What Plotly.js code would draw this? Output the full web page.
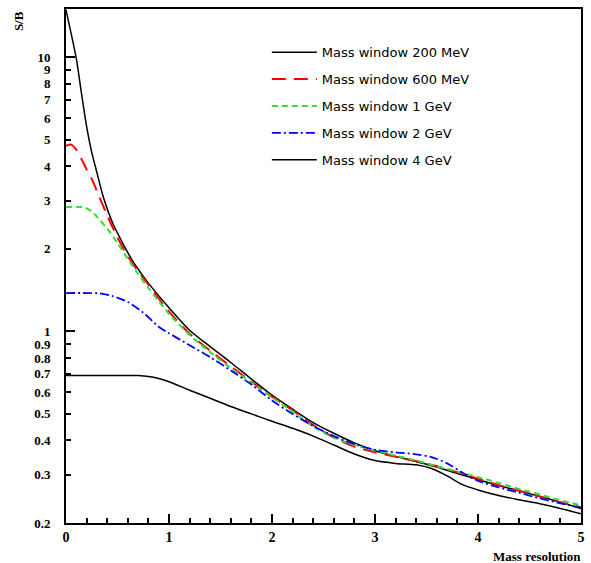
<!DOCTYPE html>
<html>
<head>
<meta charset="utf-8">
<script src="https://cdn.plot.ly/plotly-3.0.1.min.js"></script>
<style>html,body{margin:0;padding:0;background:#fff}#chart{width:591px;height:563px}</style>
</head>
<body>
<div id="chart"></div>
<script>
// Series names
const seriesNames = ["Mass window 200 MeV", "Mass window 600 MeV", "Mass window 1 GeV", "Mass window 2 GeV", "Mass window 4 GeV"];

// Mass window 200 MeV
const x200 = [0, 0.05, 0.1, 0.15, 0.2, 0.25, 0.3, 0.36, 0.45, 0.55, 0.65, 0.8, 1.0, 1.2, 1.4, 1.6, 1.8, 2.0, 2.2, 2.4, 2.6, 2.8, 3.0, 3.2, 3.4, 3.6, 3.8, 4.0, 4.2, 4.4, 4.6, 4.8, 5.0];
const y200 = [14.9, 12.2, 9.9, 7.4, 5.6, 4.5, 3.8, 3.11, 2.5, 2.1, 1.8, 1.5, 1.22, 1.01, 0.88, 0.77, 0.67, 0.585, 0.52, 0.465, 0.425, 0.392, 0.367, 0.35, 0.335, 0.32, 0.303, 0.288, 0.274, 0.262, 0.25, 0.238, 0.226];

// Mass window 600 MeV
const x600 = [0, 0.05, 0.1, 0.15, 0.2, 0.25, 0.3, 0.4, 0.5, 0.6, 0.7, 0.8, 1.0, 1.2, 1.4, 1.6, 1.8, 2.0, 2.2, 2.4, 2.6, 2.8, 3.0, 3.2, 3.4, 3.6, 3.8, 4.0, 4.2, 4.4, 4.6, 4.8, 5.0];
const y600 = [4.75, 4.8, 4.6, 4.25, 3.9, 3.6, 3.25, 2.65, 2.2, 1.88, 1.66, 1.48, 1.18, 0.98, 0.85, 0.745, 0.655, 0.578, 0.515, 0.455, 0.41, 0.38, 0.362, 0.349, 0.336, 0.322, 0.306, 0.29, 0.275, 0.262, 0.25, 0.238, 0.228];

// Mass window 1 GeV
const x1g = [0, 0.1, 0.18, 0.25, 0.3, 0.4, 0.5, 0.6, 0.7, 0.8, 0.9, 1.0, 1.2, 1.4, 1.6, 1.8, 2.0, 2.2, 2.4, 2.6, 2.8, 3.0, 3.2, 3.4, 3.6, 3.8, 4.0, 4.2, 4.4, 4.6, 4.8, 5.0];
const y1g = [2.84, 2.85, 2.83, 2.74, 2.62, 2.37, 2.1, 1.84, 1.62, 1.44, 1.29, 1.16, 0.97, 0.84, 0.735, 0.65, 0.575, 0.51, 0.45, 0.41, 0.385, 0.368, 0.352, 0.338, 0.322, 0.308, 0.294, 0.28, 0.266, 0.254, 0.242, 0.232];

// Mass window 2 GeV
const x2g = [0, 0.2, 0.33, 0.45, 0.6, 0.75, 0.9, 1.0, 1.2, 1.4, 1.6, 1.8, 2.0, 2.2, 2.4, 2.6, 2.8, 3.0, 3.2, 3.4, 3.55, 3.7, 3.85, 4.0, 4.2, 4.4, 4.6, 4.8, 5.0];
const y2g = [1.38, 1.38, 1.375, 1.345, 1.28, 1.17, 1.04, 0.985, 0.89, 0.805, 0.72, 0.64, 0.56, 0.5, 0.452, 0.415, 0.388, 0.37, 0.362, 0.356, 0.348, 0.33, 0.305, 0.285, 0.27, 0.258, 0.246, 0.236, 0.227];

// Mass window 4 GeV
const x4g = [0, 0.4, 0.7, 0.85, 1.0, 1.2, 1.4, 1.6, 1.8, 2.0, 2.2, 2.4, 2.6, 2.8, 3.0, 3.2, 3.4, 3.55, 3.7, 3.85, 4.0, 4.2, 4.4, 4.6, 4.8, 5.0];
const y4g = [0.69, 0.69, 0.69, 0.68, 0.655, 0.61, 0.57, 0.532, 0.5, 0.47, 0.443, 0.415, 0.385, 0.357, 0.338, 0.33, 0.326, 0.316, 0.297, 0.276, 0.264, 0.252, 0.243, 0.235, 0.226, 0.216];

// Axis ticks
const yTickVals = [0.2, 0.3, 0.4, 0.5, 0.6, 0.7, 0.8, 0.9, 1, 2, 3, 4, 5, 6, 7, 8, 9, 10];
const yTickText = ["0.2", "0.3", "0.4", "0.5", "0.6", "0.7", "0.8", "0.9", "1", "2", "3", "4", "5", "6", "7", "8", "9", "10"];
const yLongTicks = [1, 10];
const xTickVals = [0, 1, 2, 3, 4, 5];
const xTickText = ["0", "1", "2", "3", "4", "5"];

const xs = [x200, x600, x1g, x2g, x4g];
const ys = [y200, y600, y1g, y2g, y4g];
const colors = ["#000000", "#ff0000", "#33dd33", "#0000ff", "#000000"];
const dashes = ["solid", "14px,8px", "6px,4px", "9px,3px,2px,3px", "solid"];
const widths = [1.5, 2, 2, 1.8, 1.5];

const traces = xs.map((xv, i) => ({
  x: xv, y: ys[i], type: "scatter", mode: "lines", name: seriesNames[i],
  legendgroup: "g" + i,
  line: {color: colors[i], dash: dashes[i], width: widths[i], shape: "spline", smoothing: 0.8},
  xaxis: "x", yaxis: "y"
}));
traces.push({x: [], y: [], type: "scatter", mode: "lines", showlegend: false, xaxis: "x", yaxis: "y2", hoverinfo: "skip"});

const serif = "Liberation Serif, Times New Roman, serif";
const layout = {
  width: 591, height: 563,
  margin: {l: 66, r: 10, t: 9, b: 40},
  paper_bgcolor: "#fff", plot_bgcolor: "#fff",
  showlegend: true,
  legend: {
    x: 0.39, xanchor: "left", y: 0.945, yanchor: "top",
    traceorder: "grouped", tracegroupgap: 7, itemwidth: 45,
    font: {family: "DejaVu Sans, sans-serif", size: 13, color: "#000"},
    bgcolor: "rgba(0,0,0,0)", borderwidth: 0
  },
  xaxis: {
    range: [0, 5], showgrid: false, zeroline: false,
    showline: true, linecolor: "#000", linewidth: 2, mirror: true,
    ticks: "inside", ticklen: 9, tickwidth: 2, tickcolor: "#000",
    tickmode: "array", tickvals: xTickVals, ticktext: xTickText,
    minor: {dtick: 0.2, tick0: 0, ticks: "inside", ticklen: 5, tickwidth: 2, tickcolor: "#000", showgrid: false},
    tickfont: {family: serif, size: 14, color: "#000", weight: "bold"},
    ticklabelstandoff: 0
  },
  yaxis: {
    type: "log", range: [Math.log10(0.2), Math.log10(15)],
    showgrid: false, zeroline: false,
    showline: true, linecolor: "#000", linewidth: 2, mirror: true,
    ticks: "inside", ticklen: 5, tickwidth: 2, tickcolor: "#000",
    tickmode: "array", tickvals: yTickVals, ticktext: yTickText,
    tickfont: {family: serif, size: 13, color: "#000", weight: "bold"},
    ticklabelstandoff: 11
  },
  yaxis2: {
    type: "log", range: [Math.log10(0.2), Math.log10(15)],
    overlaying: "y", side: "left", anchor: "x",
    showgrid: false, zeroline: false, showline: false,
    ticks: "inside", ticklen: 9, tickwidth: 2, tickcolor: "#000",
    tickmode: "array", tickvals: yLongTicks, showticklabels: false
  },
  annotations: [
    {text: "S/B", xref: "paper", yref: "paper", x: -0.093, y: 1.0, xanchor: "center", yanchor: "top",
     textangle: -90, showarrow: false, font: {family: serif, size: 13, color: "#000", weight: "bold"}},
    {text: "Mass resolution", xref: "paper", yref: "paper", x: 1.003, y: -0.046, xanchor: "right", yanchor: "top",
     showarrow: false, font: {family: serif, size: 13, color: "#000", weight: "bold"}}
  ]
};

Plotly.newPlot("chart", traces, layout, {displayModeBar: false, staticPlot: true});
</script>
</body>
</html>
